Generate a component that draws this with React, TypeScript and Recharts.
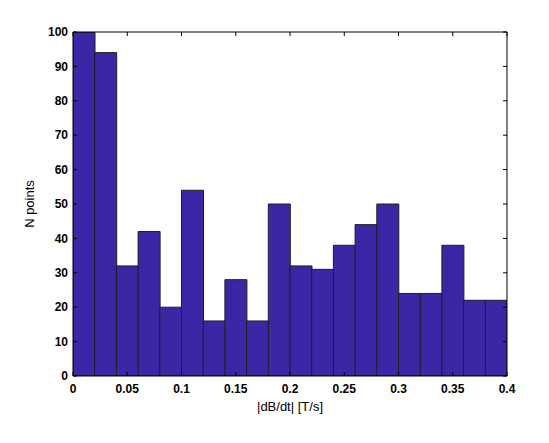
import React from 'react';
import { BarChart, Bar, XAxis, YAxis, Label } from 'recharts';

// histogram bin centres and counts
const binCentres = [0.01, 0.03, 0.05, 0.07, 0.09, 0.11, 0.13, 0.15, 0.17, 0.19, 0.21, 0.23, 0.25, 0.27, 0.29, 0.31, 0.33, 0.35, 0.37, 0.39];
const counts = [100, 94, 32, 42, 20, 54, 16, 28, 16, 50, 32, 31, 38, 44, 50, 24, 24, 38, 22, 22];
const xTicks = [0, 0.05, 0.1, 0.15, 0.2, 0.25, 0.3, 0.35, 0.4];
const yTicks = [0, 10, 20, 30, 40, 50, 60, 70, 80, 90, 100];

const data = binCentres.map((c, i) => ({ x: c, n: counts[i] }));

const tickFont = { fontFamily: '"Liberation Sans", Arial, sans-serif', fontSize: 12, fontWeight: 700, fill: '#000' };
const labelFont = { fontFamily: '"Liberation Sans", Arial, sans-serif', fontSize: 13, fill: '#000' };

export default function App() {
  return (
    <div style={{ position: 'absolute', left: 0, top: 0, background: '#fff' }}>
      <BarChart
        width={549}
        height={443}
        data={data}
        margin={{ top: 31, right: 41, left: 0, bottom: 0 }}
        barCategoryGap={0}
        barGap={0}
      >
        <XAxis
          xAxisId="main"
          dataKey="x"
          type="number"
          domain={[0, 0.4]}
          allowDataOverflow
          ticks={xTicks}
          interval={0}
          height={67}
          tickSize={-4}
          tickMargin={12}
          tick={tickFont}
          tickLine={{ stroke: '#000' }}
          axisLine={{ stroke: '#000' }}
        >
          <Label value="|dB/dt| [T/s]" position="insideTop" offset={26} style={labelFont} />
        </XAxis>
        <XAxis
          xAxisId="top"
          dataKey="x"
          orientation="top"
          type="number"
          domain={[0, 0.4]}
          allowDataOverflow
          ticks={xTicks}
          interval={0}
          height={1}
          tickSize={-4}
          tickFormatter={() => ''}
          tickLine={{ stroke: '#000' }}
          axisLine={{ stroke: '#000' }}
        />
        <YAxis
          yAxisId="left"
          type="number"
          domain={[0, 100]}
          allowDataOverflow
          ticks={yTicks}
          interval={0}
          width={73}
          tickSize={-4}
          tickMargin={9}
          tick={tickFont}
          tickLine={{ stroke: '#000' }}
          axisLine={{ stroke: '#000' }}
        >
          <Label value="N points" angle={-90} position="insideLeft" offset={29} style={{ ...labelFont, textAnchor: 'middle' }} />
        </YAxis>
        <YAxis
          yAxisId="right"
          orientation="right"
          type="number"
          domain={[0, 100]}
          allowDataOverflow
          ticks={yTicks}
          interval={0}
          width={1}
          tickSize={-4}
          tickFormatter={() => ''}
          tickLine={{ stroke: '#000' }}
          axisLine={{ stroke: '#000' }}
        />
        <Bar
          xAxisId="main"
          yAxisId="left"
          dataKey="n"
          fill="#3b27a6"
          stroke="#1e1e1e"
          strokeWidth={1}
          isAnimationActive={false}
        />
      </BarChart>
    </div>
  );
}
